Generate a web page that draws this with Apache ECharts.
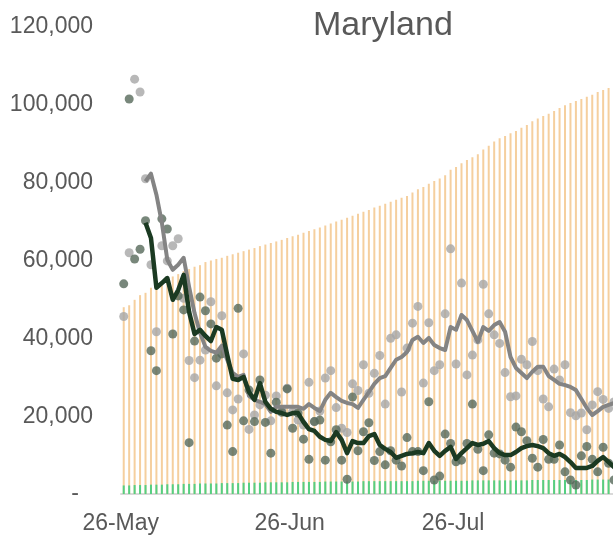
<!DOCTYPE html>
<html>
<head>
<meta charset="utf-8">
<script src="https://cdn.jsdelivr.net/npm/echarts@6/dist/echarts.min.js"></script>
<style>
  html, body { margin: 0; padding: 0; background: #fff; }
</style>
</head>
<body>
<div id="main" style="width: 613px; height: 540px;"></div>
<script>
// days from 26-May, one bar per day
var startDay = new Date(2020, 4, 26);
var monthNames = ['Jan','Feb','Mar','Apr','May','Jun','Jul','Aug','Sep','Oct','Nov','Dec'];
var days = [];
for (var i = 0; i < 96; i++) {
    var d = new Date(startDay.getTime() + i * 86400000);
    days.push(d.getDate() + '-' + monthNames[d.getMonth()]);
}

var yTicks = [0, 20000, 40000, 60000, 80000, 100000, 120000];

// orange bars
var totalBars = [
    48000, 48500, 49900, 51100, 51700, 53000, 53600, 54300, 54900, 55900,
    56500, 57300, 57800, 58400, 58800, 59600, 60000, 60400, 60700, 61200,
    61600, 62000, 62400, 62800, 63200, 63700, 64100, 64500, 64900, 65300,
    65800, 66200, 66600, 67100, 67600, 68000, 68500, 69000, 69500, 70000,
    70500, 71000, 71500, 72000, 72500, 73000, 73600, 74100, 74600, 75100,
    75600, 76100, 76600, 77500, 78300, 78900, 79700, 80400, 81100, 81900,
    83300, 84000, 85000, 85800, 86500, 87300, 88500, 89500, 90600, 91400,
    92000, 92700, 93300, 94100, 94800, 95800, 96500, 97100, 97700, 98400,
    99200, 99900, 100500, 101000, 101500, 102100, 102600, 103300, 103800, 104300,
    104800, 105300, 105800, 106300, 106800, 107300
];

// green bars at the bottom
var smallBars = [
    2200, 2200, 2300, 2300, 2300, 2400, 2400, 2400, 2500, 2500,
    2500, 2600, 2600, 2600, 2700, 2700, 2700, 2700, 2800, 2800,
    2800, 2800, 2900, 2900, 2900, 2900, 3000, 3000, 3000, 3000,
    3000, 3100, 3100, 3100, 3100, 3100, 3100, 3200, 3200, 3200,
    3200, 3200, 3200, 3200, 3300, 3300, 3300, 3300, 3300, 3300,
    3300, 3300, 3300, 3300, 3400, 3400, 3400, 3400, 3400, 3400,
    3400, 3400, 3400, 3400, 3500, 3500, 3500, 3500, 3500, 3500,
    3500, 3500, 3500, 3500, 3500, 3600, 3600, 3600, 3600, 3600,
    3600, 3600, 3600, 3600, 3600, 3600, 3700, 3700, 3700, 3700,
    3700, 3700, 3700, 3700, 3700, 3700
];

// light gray dots + their line
var grayDots = [
    45600, 62000, 106600, 103300, 81000, 58900, 41700, 63800, 59900, 63800,
    65600, 50300, 34300, 29900, 34400, 37000, 49400, 27800, 45800, 26000,
    21600, 24400, 36000, 16600, 20300, 22900, 25400, 18800, 25200, 21600,
    27200, 21100, 19000, 17700, 28700, 18600, 21300, 29800, 31700, 22200,
    16900, 15800, 28300, 26600, 33200, 25900, 31000, 35600, 23100, 40000,
    40900, 26200, 37500, 43900, 48200, 28500, 44000, 31700, 33200, 46300,
    63000, 33400, 54200, 30600, 35700, 39600, 53900, 46300, 40900, 38700,
    31200, 25000, 25200, 34600, 33200, 39200, 31700, 24400, 22400, 32100,
    29300, 33200, 20900, 20100, 20800, 16500, 22900, 26300, 24300, 22000,
    23700, 20500, 26000, 24000, 18500, 22000
];
var grayLine = [
    null, null, null, null, 80300, 82300, 76900, 69700, 60200, 57600,
    58900, 60700, 53200, 46500, 41400, 37800, 36800, 36300, 38100, 34500,
    31100, 30100, 30600, 25200, 24200, 23700, 23100, 21100, 22400, 22400,
    22400, 22400, 22400, 21900, 23100, 22100, 21300, 24200, 26000, 24900,
    23900, 23400, 23100, 22100, 24200, 26200, 28300, 29800, 30300, 32400,
    34500, 35200, 36500, 39600, 40400, 38800, 40100, 38300, 37500, 37000,
    42900, 42200, 46000, 44700, 41900, 39100, 42900, 41900, 43400, 44200,
    41700, 35200, 32400, 31100, 29800, 31400, 32700, 32700, 30300, 29300,
    28300, 28000, 27500, 26700, 24400, 22100, 20300, 21300, 22400, 22900,
    23400, 23900, 24200, 24400, 24200, 23700
];

// dark green dots + their line
var greenDots = [
    54000, 101500, 60400, 62900, 70200, 36800, 31700, 70700, 68100, 41100,
    50900, 47300, 13200, 39300, 50600, 47100, 43700, 34900, 36000, 17700,
    10900, 47700, 18800, 26700, 18600, 29300, 18400, 10500, 23600, 21000,
    27000, 16900, 20800, 14100, 8900, 18600, 19000, 8700, 13400, 16500,
    8700, 3800, 24900, 11100, 16000, 18300, 8600, 10900, 7500, 11100,
    8700, 7200, 14500, 10900, 10900, 6000, 23700, 3600, 4600, 15400,
    13000, 8300, 8700, 13000, 23100, 11500, 6000, 15200, 10500, 10300,
    8700, 6900, 17200, 16000, 13700, 9200, 6900, 14000, 8900, 8900,
    12600, 5700, 3600, 2300, 9800, 12200, 8900, 5700, 12000, 7900,
    3600, 9000, 6000, 11000, 7500, 5000
];
var greenLine = [
    null, null, null, null, 69700, 65800, 53000, 54200, 55500, 49900,
    52400, 56300, 46800, 41100, 42200, 40600, 39300, 42900, 42200, 35700,
    29600, 29300, 30100, 26200, 24200, 28500, 23700, 21900, 21100, 20800,
    20300, 20800, 20800, 18500, 16700, 16200, 14700, 13900, 13600, 15900,
    13900, 10500, 13600, 13100, 13100, 14900, 15400, 12600, 11600, 10800,
    9300, 9800, 10300, 10500, 10800, 10500, 13100, 11100, 9800, 11100,
    12100, 9000, 10500, 11800, 13100, 12600, 12900, 13600, 11800, 10500,
    10000, 10000, 10800, 11800, 12300, 12600, 12300, 11800, 10500, 9800,
    10300, 9500, 8200, 6700, 6700, 6700, 7200, 8500, 9500, 8200,
    6900, 6500, 6800, 7400, 7000, 6600
];

var chartDom = document.getElementById('main');
var myChart = echarts.init(chartDom);
var textColor = '#595959';
var fontName = '"Liberation Sans", Arial, sans-serif';

function showDay(index) {
    // the 26-Aug label falls past the right edge of the picture
    return days[index].indexOf('26-') === 0 && index < 90;
}

var option = {
    animation: false,
    title: {
        text: 'Maryland',
        left: 308,
        top: 4,
        textStyle: {
            color: textColor,
            fontSize: 34,
            fontWeight: 'normal',
            fontFamily: fontName
        }
    },
    grid: {
        left: 121,
        top: 27,
        width: 523,
        bottom: 46,
        outerBoundsMode: 'none'
    },
    xAxis: {
        type: 'category',
        data: days,
        boundaryGap: true,
        axisLine: { lineStyle: { color: '#d9d9d9', width: 2 } },
        axisTick: {
            interval: showDay,
            length: 7,
            lineStyle: { color: '#d9d9d9', width: 2 }
        },
        axisLabel: {
            interval: showDay,
            color: textColor,
            fontSize: 23,
            fontFamily: fontName,
            margin: 18,
            padding: [0, 6, 0, 0]
        }
    },
    yAxis: {
        type: 'value',
        min: yTicks[0],
        max: yTicks[yTicks.length - 1],
        interval: yTicks[1] - yTicks[0],
        splitLine: { show: false },
        axisLine: { show: false },
        axisTick: { show: false },
        axisLabel: {
            margin: 28,
            color: textColor,
            fontSize: 23,
            fontFamily: fontName,
            formatter: function (v) {
                if (v === 0) return '{dash|-}';
                return v.toString().replace(/\B(?=(\d{3})+(?!\d))/g, ',');
            },
            rich: {
                dash: { fontSize: 23, color: textColor, padding: [0, 14, 0, 0] }
            }
        }
    },
    series: [
        {
            name: 'total',
            type: 'bar',
            data: totalBars,
            barWidth: 2,
            barGap: '-100%',
            itemStyle: { color: '#f5cf9e' },
            silent: true
        },
        {
            name: 'small',
            type: 'bar',
            data: smallBars,
            barWidth: 2,
            barGap: '-100%',
            itemStyle: { color: '#55cf82' },
            silent: true
        },
        {
            name: 'grayDots',
            type: 'scatter',
            data: grayDots,
            symbolSize: 9,
            itemStyle: { color: '#a6a6a6' }
        },
        {
            name: 'greenDots',
            type: 'scatter',
            data: greenDots,
            symbolSize: 9,
            itemStyle: { color: '#56695a' }
        },
        {
            name: 'grayLine',
            type: 'line',
            data: grayLine,
            symbol: 'none',
            lineStyle: { color: '#848484', width: 4, join: 'round' }
        },
        {
            name: 'greenLine',
            type: 'line',
            data: greenLine,
            symbol: 'none',
            lineStyle: { color: '#1b3a22', width: 4.5, join: 'round' }
        }
    ]
};

option && myChart.setOption(option);
</script>
</body>
</html>
